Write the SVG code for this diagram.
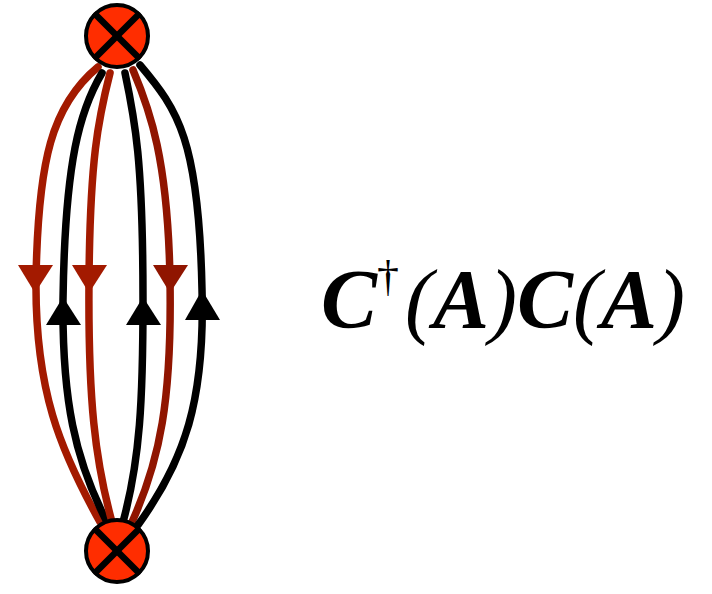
<svg xmlns="http://www.w3.org/2000/svg" width="712" height="594" viewBox="0 0 712 594">
<style>
.red{fill:none;stroke:#a31a00;stroke-width:7.5;stroke-linecap:round}
.blk{fill:none;stroke:#000;stroke-width:7.5;stroke-linecap:round}
.ared{fill:#a31a00}
.ablk{fill:#000}
.node circle{fill:#ff2d00;stroke:#000;stroke-width:4}
.node line{stroke:#000;stroke-width:6.5}
text{font-family:"Liberation Serif","DejaVu Serif",serif}
.lbl{font-size:84px;font-style:italic;fill:#000}
.b{font-weight:bold}
</style>
<rect width="712" height="594" fill="#fff"/>
<g id="connectors">
<path class="red" d="M98,67 C52,105 38,160 36,280 C35,390 60,450 100,522"/>
<path class="blk" d="M102,73 C80,110 65,160 63,300 C62,400 75,460 107,522"/>
<path class="red" d="M110,73 C98,120 90,160 89,280 C88,400 95,460 112,522"/>
<path class="blk" d="M125,73 C135,120 143,160 143,300 C143,400 140,460 123,522"/>
<path class="red" style="stroke:#901500" d="M133,70 C150,110 168,160 170,280 C172,400 160,460 132,522"/>
<path class="blk" d="M140,65 C178,110 199,140 202,290 C205,400 185,460 138,525"/>
<polygon class="ared" points="18,265 53,265 35,293"/>
<polygon class="ablk" points="46,325 81,325 63,297"/>
<polygon class="ared" points="72,265 107,265 89,293"/>
<polygon class="ablk" points="126,325 161,325 143,297"/>
<polygon class="ared" style="fill:#901500" points="153,265 188,265 170,293"/>
<polygon class="ablk" points="185,320 220,320 202,290"/>
</g>
<g id="node-top" class="node">
<circle cx="117" cy="36" r="31"/>
<line x1="94" y1="13" x2="140" y2="59"/>
<line x1="140" y1="13" x2="94" y2="59"/>
</g>
<g id="node-bottom" class="node">
<circle cx="117" cy="551" r="31"/>
<line x1="94" y1="528" x2="140" y2="574"/>
<line x1="140" y1="528" x2="94" y2="574"/>
</g>
<g id="label">
<text class="lbl" y="328"><tspan x="321" class="b">C</tspan><tspan x="377" y="291" font-size="44" font-style="normal">†</tspan><tspan x="405" y="328">(</tspan><tspan class="b">A</tspan><tspan>)</tspan><tspan class="b">C</tspan><tspan>(</tspan><tspan class="b">A</tspan><tspan>)</tspan></text>
</g>
</svg>
